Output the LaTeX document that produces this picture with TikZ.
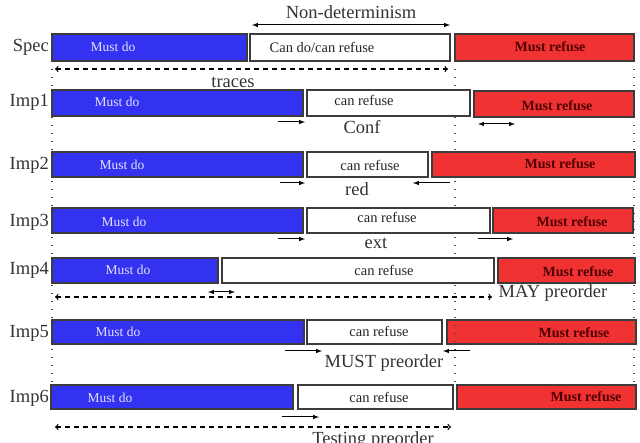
\documentclass[tikz,border=0pt]{standalone}
\usepackage{fontspec}
\setmainfont{Liberation Serif}
\usetikzlibrary{arrows}

\definecolor{mustblue}{RGB}{50,50,240}
\definecolor{mustred}{RGB}{240,50,50}
\definecolor{dotext}{RGB}{225,225,255}
\definecolor{reftext}{RGB}{80,0,0}
\definecolor{barline}{RGB}{60,60,60}

\tikzset{
  bar/.style={draw=barline, line width=1.4pt},
  mustdo/.style={bar, fill=mustblue},
  canref/.style={bar, fill=white},
  mustref/.style={bar, fill=mustred},
  dotxt/.style={text=dotext, font=\fontsize{13.5}{15}\selectfont},
  cantxt/.style={text=black!85, font=\fontsize{14.5}{16}\selectfont},
  reftxt/.style={text=reftext, font=\fontsize{14}{15}\selectfont\bfseries},
  lbl/.style={font=\fontsize{18.5}{20}\selectfont, anchor=east, inner sep=0pt, text=black!80},
  big/.style={font=\fontsize{18.5}{20}\selectfont, text=black!80},
  movearrow/.style={->, >=latex, line width=1pt},
  dashline/.style={<->, >=to, dash pattern=on 5pt off 4pt, line width=1.3pt},
  guide/.style={line width=1.5pt, dash pattern=on 1.5pt off 6.5pt, black!70}
}

\begin{document}
\begin{tikzpicture}[x=1pt, y=-1pt]

\useasboundingbox (0,0) rectangle (640,443);

% Dotted guide lines behind the bars
\draw [guide] (52,61) -- (52,385);
\draw [guide] (455,61) -- (455,385);
\draw [guide] (634,61) -- (634,385);

% Spec
\node[big] (nondet) at (351,12) {Non-determinism};
\draw [movearrow, <->] (252,25) -- (450,25);
\node[lbl] (lspec) at (49,47) {Spec};
\draw [mustdo]  (52,34)  rectangle (247,61);
\draw [canref]  (250,34) rectangle (450,61);
\draw [mustref] (455,34) rectangle (634,61);
\node[dotxt]  (specdo)  at (113,47) {Must do};
\node[cantxt] (speccan) at (322,47) {Can do/can refuse};
\node[reftxt] (specref) at (550,47) {Must refuse};
\draw [dashline] (55,69) -- (448,69);
\node[big] (traces) at (233,82) {traces};

% Imp1
\node[lbl] (limp1) at (49,102) {Imp1};
\draw [mustdo]  (52,90)  rectangle (303,116);
\draw [canref]  (307,90) rectangle (470,116);
\draw [mustref] (474,91) rectangle (634,117);
\node[dotxt]  (imp1do)  at (117,102) {Must do};
\node[cantxt] (imp1can) at (364,100) {can refuse};
\node[reftxt] (imp1ref) at (557,106) {Must refuse};
\draw [movearrow] (278,122) -- (305,122);
\draw [movearrow, <->] (478,124) -- (515,124);
\node[big] (conf) at (362,127) {Conf};

% Imp2
\node[lbl] (limp2) at (49,165) {Imp2};
\draw [mustdo]  (52,152)  rectangle (303,177);
\draw [canref]  (307,152) rectangle (428,177);
\draw [mustref] (432,152) rectangle (635,177);
\node[dotxt]  (imp2do)  at (122,165) {Must do};
\node[cantxt] (imp2can) at (370,165) {can refuse};
\node[reftxt] (imp2ref) at (560,164) {Must refuse};
\draw [movearrow] (280,183) -- (305,183);
\draw [movearrow] (450,183) -- (413,183);
\node[big] (red) at (357,189) {red};

% Imp3
\node[lbl] (limp3) at (49,222) {Imp3};
\draw [mustdo]  (52,208)  rectangle (303,233);
\draw [canref]  (307,208) rectangle (490,233);
\draw [mustref] (493,208) rectangle (633,233);
\node[dotxt]  (imp3do)  at (124,222) {Must do};
\node[cantxt] (imp3can) at (387,217) {can refuse};
\node[reftxt] (imp3ref) at (572,222) {Must refuse};
\draw [movearrow] (278,239) -- (305,239);
\draw [movearrow] (478,239) -- (513,239);
\node[big] (ext) at (376,243) {ext};

% Imp4
\node[lbl] (limp4) at (49,270) {Imp4};
\draw [mustdo]  (52,258)  rectangle (218,283);
\draw [canref]  (222,258) rectangle (494,283);
\draw [mustref] (498,258) rectangle (635,283);
\node[dotxt]  (imp4do)  at (128,270) {Must do};
\node[cantxt] (imp4can) at (384,270) {can refuse};
\node[reftxt] (imp4ref) at (578,272) {Must refuse};
\draw [movearrow, <->] (208,292) -- (235,292);
\draw [dashline] (55,297) -- (492,297);
\node[big] (may) at (553,293) {MAY preorder};

% Imp5
\node[lbl] (limp5) at (49,333) {Imp5};
\draw [mustdo]  (52,320)  rectangle (304,344);
\draw [canref]  (307,320) rectangle (442,344);
\draw [mustref] (447,320) rectangle (636,344);
\draw [guide] (455,325) -- (455,344);
\node[dotxt]  (imp5do)  at (118,332) {Must do};
\node[cantxt] (imp5can) at (379,331) {can refuse};
\node[reftxt] (imp5ref) at (574,333) {Must refuse};
\draw [movearrow] (285,351) -- (322,351);
\draw [movearrow] (470,351) -- (443,351);
\node[big] (must) at (384,363) {MUST preorder};

% Imp6
\node[lbl] (limp6) at (49,398) {Imp6};
\draw [mustdo]  (51,385)  rectangle (293,409);
\draw [canref]  (298,385) rectangle (453,409);
\draw [mustref] (457,385) rectangle (636,409);
\node[dotxt]  (imp6do)  at (110,398) {Must do};
\node[cantxt] (imp6can) at (379,397) {can refuse};
\node[reftxt] (imp6ref) at (586,397) {Must refuse};
\draw [movearrow] (282,417) -- (319,417);
\draw [dashline] (55,427) -- (451,427);
\node[big] (testing) at (373,440) {Testing preorder};

\end{tikzpicture}
\end{document}
